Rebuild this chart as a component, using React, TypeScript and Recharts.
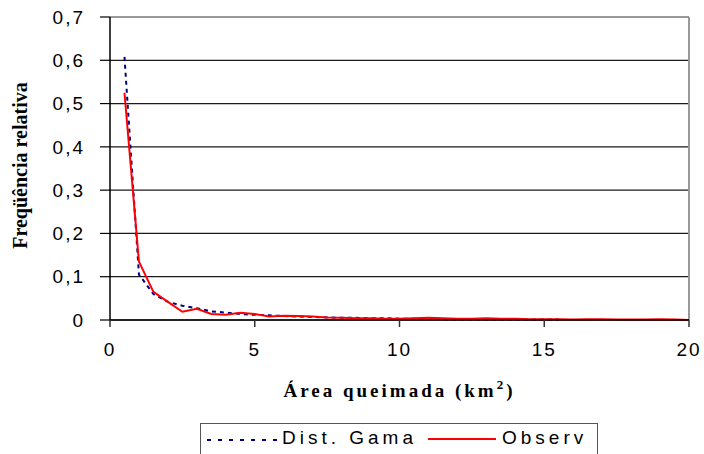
import { CartesianGrid, Label, Line, LineChart, ReferenceLine, XAxis, YAxis } from "recharts";

const AREA_KM2 = [
  0.5, 1, 1.5, 2, 2.5, 3, 3.5, 4, 4.5, 5, 5.5, 6, 6.5, 7, 7.5, 8, 8.5, 9, 9.5, 10,
  10.5, 11, 11.5, 12, 12.5, 13, 13.5, 14, 14.5, 15, 15.5, 16, 16.5, 17, 17.5, 18,
  18.5, 19, 19.5, 20,
];

const OBSERV = [
  0.525, 0.135, 0.065, 0.042, 0.019, 0.026, 0.014, 0.012, 0.017, 0.014, 0.008, 0.01,
  0.009, 0.008, 0.006, 0.005, 0.004, 0.004, 0.003, 0.003, 0.004, 0.005, 0.004, 0.003,
  0.003, 0.004, 0.003, 0.003, 0.002, 0.002, 0.002, 0.001, 0.002, 0.002, 0.001, 0.001,
  0.001, 0.002, 0.001, 0,
];

const DIST_GAMA = [
  0.608, 0.105, 0.06, 0.042, 0.033, 0.027, 0.02, 0.017, 0.014, 0.012, 0.011, 0.009,
  0.008, 0.007, 0.006, 0.005, 0.005, 0.004, 0.004, 0.003, 0.003, 0.003, 0.002, 0.002,
  0.002, 0.002, 0.002, 0.001, 0.001, 0.001, 0.001,
];

const X_TICKS = [0, 5, 10, 15, 20];
const Y_TICKS = [0, 0.1, 0.2, 0.3, 0.4, 0.5, 0.6, 0.7];

const data = AREA_KM2.map((x, i) => ({
  x,
  observ: OBSERV[i],
  gama: i < DIST_GAMA.length ? DIST_GAMA[i] : null,
}));

const TICK_STYLE = {
  fill: "#000",
  fontSize: 19,
  fontFamily: "'Liberation Sans', Arial, sans-serif",
  letterSpacing: 2,
};

const TITLE_FONT = "'Liberation Serif', 'Times New Roman', serif";

function formatY(v: number) {
  return v === 0 ? "0" : v.toFixed(1).replace(".", ",");
}

export default function App() {
  return (
    <div
      style={{
        position: "absolute",
        left: 0,
        top: 0,
        width: 704,
        height: 454,
        overflow: "hidden",
        background: "#fff",
      }}
    >
      <LineChart
        width={704}
        height={454}
        data={data}
        margin={{ top: 17, right: 15, left: 0, bottom: 0 }}
      >
        <CartesianGrid vertical={false} stroke="#1a1a1a" strokeWidth={1.2} />
        <XAxis
          dataKey="x"
          type="number"
          domain={[0, 20]}
          ticks={X_TICKS}
          height={134}
          axisLine={{ stroke: "#000", strokeWidth: 1.5 }}
          tickLine={{ stroke: "#333", strokeWidth: 1.5 }}
          tickSize={7}
          tickMargin={16}
          tick={TICK_STYLE}
        >
          <Label
            content={(props: any) => {
              const vb = props.viewBox;
              return (
                <text
                  x={vb.x + vb.width / 2}
                  y={vb.y + 77}
                  textAnchor="middle"
                  fontFamily={TITLE_FONT}
                  fontWeight="bold"
                  fontSize={19}
                  letterSpacing={3}
                  fill="#000"
                >
                  Área queimada (km
                  <tspan fontSize={13} dy={-8}>2</tspan>
                  <tspan dy={8}>)</tspan>
                </text>
              );
            }}
          />
        </XAxis>
        <YAxis
          type="number"
          domain={[0, 0.7]}
          ticks={Y_TICKS}
          width={110}
          axisLine={{ stroke: "#000", strokeWidth: 1.5 }}
          tickLine={{ stroke: "#000", strokeWidth: 1.2 }}
          tickSize={10}
          tickMargin={15}
          tick={TICK_STYLE}
          tickFormatter={formatY}
        >
          <Label
            content={(props: any) => {
              const vb = props.viewBox;
              const cx = vb.x + 20;
              const cy = vb.y + vb.height / 2 - 3;
              return (
                <text
                  x={cx}
                  y={cy}
                  transform={`rotate(-90, ${cx}, ${cy})`}
                  textAnchor="middle"
                  dominantBaseline="central"
                  fontFamily={TITLE_FONT}
                  fontWeight="bold"
                  fontSize={20}
                  fill="#000"
                >
                  Freqüência relativa
                </text>
              );
            }}
          />
        </YAxis>
        <ReferenceLine y={0.7} stroke="#999" strokeWidth={2} />
        <ReferenceLine x={20} stroke="#999" strokeWidth={2} />
        <Line
          dataKey="gama"
          type="linear"
          stroke="#000080"
          strokeWidth={2}
          strokeDasharray="4 4"
          dot={false}
          connectNulls={false}
          isAnimationActive={false}
        />
        <Line
          dataKey="observ"
          type="linear"
          stroke="#ff0000"
          strokeWidth={2}
          dot={false}
          isAnimationActive={false}
        />
      </LineChart>

      <div
        style={{
          position: "absolute",
          left: 200,
          top: 423,
          width: 398,
          height: 40,
          border: "1px solid #555",
          boxSizing: "border-box",
          fontFamily: "'Liberation Sans', Arial, sans-serif",
          fontSize: 19,
          letterSpacing: 4,
          color: "#000",
        }}
      >
        <svg
          width={72}
          height={6}
          style={{ position: "absolute", left: 6, top: 13 }}
        >
          <line x1={0} y1={3} x2={72} y2={3} stroke="#000080" strokeWidth={2} strokeDasharray="4 7" />
        </svg>
        <span style={{ position: "absolute", left: 81, top: 3, whiteSpace: "nowrap" }}>
          Dist. Gama
        </span>
        <svg
          width={68}
          height={6}
          style={{ position: "absolute", left: 227, top: 12 }}
        >
          <line x1={0} y1={3} x2={68} y2={3} stroke="#ff0000" strokeWidth={2} />
        </svg>
        <span style={{ position: "absolute", left: 301, top: 3, whiteSpace: "nowrap" }}>
          Observ
        </span>
      </div>
    </div>
  );
}
